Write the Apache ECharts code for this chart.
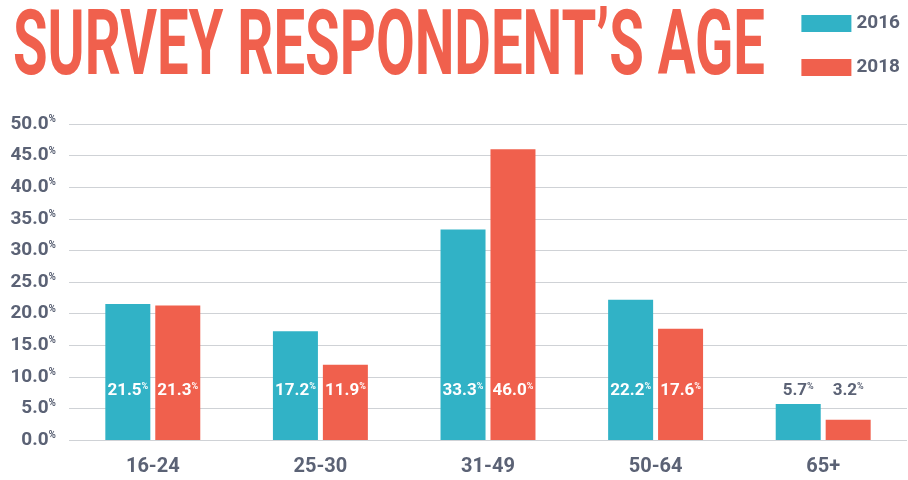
<!DOCTYPE html>
<html><head><meta charset="utf-8">
<script src="https://cdn.jsdelivr.net/npm/echarts@6/dist/echarts.min.js"></script>
<style>html,body{margin:0;padding:0;background:#fff}#c{width:908px;height:480px}</style>
</head><body><div id="c"></div>
<script>
const categories = ['16-24', '25-30', '31-49', '50-64', '65+'];
const series2016 = [21.5, 17.2, 33.3, 22.2, 5.7];
const series2018 = [21.3, 11.9, 46.0, 17.6, 3.2];
const yTicks = [0, 5, 10, 15, 20, 25, 30, 35, 40, 45, 50];
const seriesNames = ['2016', '2018'];
const titleText = 'SURVEY RESPONDENT\u2019S AGE';

const FONT = 'Roboto, "Liberation Sans", sans-serif';
const GRAY = '#5b6275';
const TEAL = '#31b2c6';
const RED = '#f0604d';

// measure title to squeeze it horizontally (condensed look)
const TITLE_SIZE = 90;
const TITLE_WIDTH = 752;
const mc = document.createElement('canvas').getContext('2d');
mc.font = 'bold ' + TITLE_SIZE + 'px ' + FONT;
const titleScale = TITLE_WIDTH / mc.measureText(titleText).width;

function barLabel() {
  return {
    show: true,
    position: 'insideBottom',
    distance: 41,
    formatter: p => '{v|' + p.value.toFixed(1) + '}{p|%}',
    rich: {
      v: { fontFamily: FONT, fontWeight: 'bold', fontSize: 17 },
      p: { fontFamily: FONT, fontWeight: 'bold', fontSize: 9, verticalAlign: 'top', padding: [0, 0, 7, 0] }
    }
  };
}

function makeData(vals) {
  return vals.map(v => ({
    value: v,
    label: { rich: {
      v: { color: v < 8 ? GRAY : '#fff' },
      p: { color: v < 8 ? GRAY : '#fff' }
    } }
  }));
}

const chart = echarts.init(document.getElementById('c'), null, { renderer: 'canvas' });
chart.setOption({
  animation: false,
  backgroundColor: '#fff',
  graphic: [{
    type: 'text',
    x: 13, y: 51,
    scaleX: titleScale,
    style: { text: titleText, fontFamily: FONT, fontWeight: 'bold', fontSize: TITLE_SIZE, fill: RED, verticalAlign: 'middle', textAlign: 'left' }
  }],
  legend: {
    orient: 'vertical', right: 3, top: 9,
    itemWidth: 50, itemHeight: 17, itemGap: 25,
    icon: 'rect',
    textStyle: { fontFamily: FONT, fontWeight: 'bold', fontSize: 19, color: GRAY },
    data: seriesNames
  },
  grid: { left: 69, right: 1, top: 124, bottom: 40 },
  xAxis: {
    type: 'category', data: categories,
    axisLine: { show: false }, axisTick: { show: false },
    axisLabel: { margin: 17, fontFamily: FONT, fontWeight: 'bold', fontSize: 20, color: GRAY }
  },
  yAxis: {
    type: 'value', min: 0, max: 50, interval: 5,
    axisLine: { show: false }, axisTick: { show: false },
    splitLine: { lineStyle: { color: '#cfd2d6', width: 1 } },
    axisLabel: {
      margin: 13,
      formatter: v => '{v|' + v.toFixed(1) + '}{p|%}',
      rich: {
        v: { fontFamily: FONT, fontWeight: 'bold', fontSize: 19, color: GRAY },
        p: { fontFamily: FONT, fontWeight: 'bold', fontSize: 10, color: GRAY, verticalAlign: 'top', padding: [0, 0, 8, 0] }
      }
    }
  },
  series: [
    { name: seriesNames[0], type: 'bar', data: makeData(series2016), itemStyle: { color: TEAL }, barWidth: 45, barGap: '11%', label: barLabel() },
    { name: seriesNames[1], type: 'bar', data: makeData(series2018), itemStyle: { color: RED }, barWidth: 45, barGap: '11%', label: barLabel() }
  ]
});
</script></body></html>
